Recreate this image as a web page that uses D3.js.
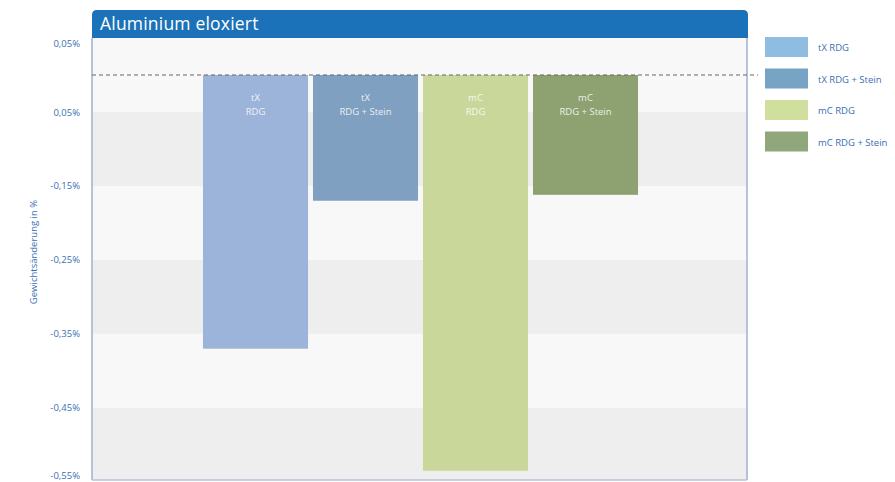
<!DOCTYPE html>
<html><head><meta charset="utf-8">
<script src="https://cdn.jsdelivr.net/npm/d3@7"></script>
<style>body{margin:0;background:#fff;} svg{display:block;font-family:"Open Sans",sans-serif;}</style>
</head><body><svg id="c" width="895" height="482"></svg>
<script>
const categories = ["tX RDG", "tX RDG + Stein", "mC RDG", "mC RDG + Stein"];
const barLabels1 = ["tX", "tX", "mC", "mC"];
const barLabels2 = ["RDG", "RDG + Stein", "RDG", "RDG + Stein"];
const values = [-0.37, -0.17, -0.535, -0.162];
const barColors = ["#9db4da", "#7fa0c0", "#c9d79b", "#8ea271"];
const legendColors = ["#8fbde2", "#77a4c4", "#d0de9e", "#8fa77a"];
const tickValues = [0.05, -0.05, -0.15, -0.25, -0.35, -0.45, -0.55];
const tickLabels = ["0,05%", "0,05%", "-0,15%", "-0,25%", "-0,35%", "-0,45%", "-0,55%"];
const title = "Aluminium eloxiert";
const yTitle = "Gewichtsänderung in %";

const svg = d3.select("#c");
const L = 92, R = 747, T = 38, B = 480;
const y = d3.scaleLinear().domain([0.05, -0.5475]).range([T, B]);
const x = d3.scaleBand().domain(categories).range([200.5, 640.5]).paddingInner(0.045).paddingOuter(0.0225);

// background bands
svg.append("rect").attr("x", L).attr("y", T).attr("width", R - L).attr("height", B - T).attr("fill", "#f8f8f8");
const bandStarts = [-0.05, -0.25, -0.45];
svg.selectAll("rect.band").data(bandStarts).join("rect").attr("class", "band")
  .attr("x", L).attr("width", R - L)
  .attr("y", d => y(d))
  .attr("height", d => Math.min(y(d - 0.1), B) - y(d))
  .attr("fill", "#eeeeee");

// header
const hp = d3.path();
const hr = 5, hy = 10;
hp.moveTo(L, T); hp.lineTo(L, hy + hr); hp.quadraticCurveTo(L, hy, L + hr, hy);
hp.lineTo(R + 1 - hr, hy); hp.quadraticCurveTo(R + 1, hy, R + 1, hy + hr); hp.lineTo(R + 1, T); hp.closePath();
svg.append("path").attr("d", hp.toString()).attr("fill", "#1c72b8");
svg.append("text").attr("x", L + 8).attr("y", 30).attr("fill", "#fff").attr("font-size", 17.5).attr("letter-spacing", 0.2).text(title);

// frame
svg.append("line").attr("x1", L).attr("x2", L).attr("y1", T).attr("y2", B).attr("stroke", "#9fb0cc").attr("stroke-width", 1.5);
svg.append("line").attr("x1", R).attr("x2", R).attr("y1", T).attr("y2", B).attr("stroke", "#9fb0cc").attr("stroke-width", 1.5);
svg.append("line").attr("x1", L).attr("x2", R).attr("y1", B).attr("y2", B).attr("stroke", "#b8c3d8").attr("stroke-width", 1.5);

// bars
svg.selectAll("rect.bar").data(values).join("rect").attr("class", "bar")
  .attr("x", (d, i) => x(categories[i]))
  .attr("width", x.bandwidth())
  .attr("y", d => y(Math.max(0, d)))
  .attr("height", d => Math.abs(y(d) - y(0)))
  .attr("fill", (d, i) => barColors[i]);

// bar labels
const bl = svg.selectAll("text.bl").data(categories).join("text").attr("class", "bl")
  .attr("text-anchor", "middle").attr("fill", "#ffffff").attr("fill-opacity", 0.85).attr("font-size", 9.5);
bl.append("tspan").attr("x", d => x(d) + x.bandwidth() / 2).attr("y", 101).text((d, i) => barLabels1[i]);
bl.append("tspan").attr("x", d => x(d) + x.bandwidth() / 2).attr("y", 115).text((d, i) => barLabels2[i]);

// zero dashed line
svg.append("line").attr("x1", L).attr("x2", 758).attr("y1", y(0)).attr("y2", y(0))
  .attr("stroke", "#666").attr("stroke-dasharray", "4,3").attr("stroke-width", 1);

// y axis
const yAxis = d3.axisLeft(y).tickValues(tickValues).tickFormat((d, i) => tickLabels[i]).tickSize(0).tickPadding(0);
const ga = svg.append("g").attr("transform", "translate(80,0)").call(yAxis);
ga.select(".domain").remove();
ga.selectAll("text").attr("fill", "#3b6fb2").attr("font-size", 9.5).attr("font-family", "Open Sans, sans-serif");
ga.selectAll(".tick").filter(d => d === 0.05).select("text").attr("dy", "0.9em");
ga.selectAll(".tick").filter(d => d === -0.55).select("text").attr("dy", "-0.35em");

svg.append("text").attr("transform", "translate(37,252) rotate(-90)").attr("text-anchor", "middle")
  .attr("fill", "#3b6fb2").attr("font-size", 9.5).text(yTitle);

// legend
const lg = svg.selectAll("g.lg").data(categories).join("g").attr("class", "lg")
  .attr("transform", (d, i) => `translate(765,${37 + i * 31.5})`);
lg.append("rect").attr("width", 43).attr("height", 20).attr("fill", (d, i) => legendColors[i]);
lg.append("text").attr("x", 53).attr("y", 14).attr("font-size", 9.5).attr("fill", "#3b6fb2").text(d => d);
</script></body></html>
